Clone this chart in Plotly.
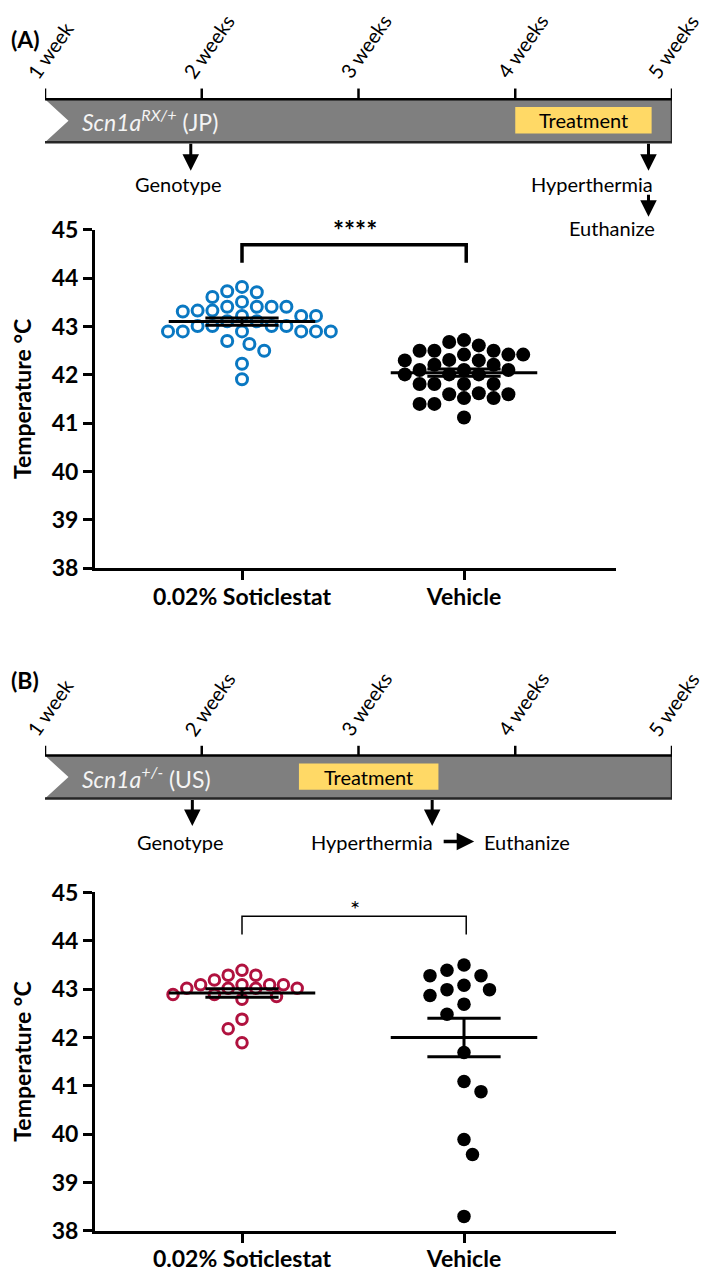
import numpy as np
import plotly.graph_objects as go

W, H = 709, 1275

# ---------------- data ----------------
weeks = [1, 2, 3, 4, 5]
week_labels = ["1 week", "2 weeks", "3 weeks", "4 weeks", "5 weeks"]
categories = ["0.02% Soticlestat", "Vehicle"]

a_soticlestat = [43.82, 43.73, 43.71, 43.61, 43.51, 43.41, 43.41, 43.41, 43.41, 43.33,
                 43.33, 43.31, 43.22, 43.22, 43.22, 43.11, 43.11, 43.01, 43.01, 43.01,
                 43.01, 42.90, 42.90, 42.90, 42.90, 42.90, 42.90, 42.70, 42.64, 42.50,
                 42.23, 41.91]
a_vehicle = [42.72, 42.68, 42.61, 42.50, 42.50, 42.50, 42.42, 42.42, 42.42, 42.31,
             42.30, 42.30, 42.21, 42.21, 42.10, 42.10, 42.10, 42.01, 42.01, 42.01,
             41.81, 41.81, 41.81, 41.81, 41.62, 41.60, 41.60, 41.52, 41.52, 41.40,
             41.40, 41.12]
b_soticlestat = [43.39, 43.29, 43.29, 43.19, 43.09, 43.09, 43.09, 43.09, 43.02, 43.02,
                 43.02, 43.02, 42.89, 42.89, 42.85, 42.79, 42.38, 42.18, 41.89]
b_vehicle = [43.50, 43.39, 43.28, 43.28, 43.08, 42.99, 42.99, 42.87, 42.69, 42.48,
             41.69, 41.09, 40.88, 39.89, 39.58, 38.30]

treat_a = [4.0, 4.87]          # weeks
treat_b = [2.62, 3.51]
genotype_week_a = 1.93
genotype_week_b = 1.94
hyper_week_a = 4.85
hyper_week_b = 3.47
sig_a = "****"
sig_b = "*"

# ---------------- style ----------------
FONT = "Lato"
BLUE = "#0a78c2"
RED = "#b0123f"
GRAY = "#7f7f7f"
YELLOW = "#ffd966"

fig = go.Figure()


def px_x(p):
    return p / W


def px_y(p):
    return 1 - p / H


# ---------------- axes layout ----------------
X0, X1 = 87, 608          # scatter plot x extent in px
CAT0, CAT1 = 234, 456     # category centres px
PPU_X = CAT1 - CAT0
xr = [(X0 - CAT0) / PPU_X, (X1 - CAT0) / PPU_X]

panels = {
    "A": dict(tl_top=0, y45=211.5, y38=557.5),
    "B": dict(tl_top=640, y45=889, y38=1235),
}
PPU_Y = (557.5 - 211.5) / 7.0

axis_common = dict(showgrid=False, zeroline=False, showline=True, linewidth=3,
                   linecolor="black", ticks="outside", ticklen=9, tickwidth=3,
                   tickcolor="black",
                   tickfont=dict(family=FONT, size=23, color="black", weight=700))

layout = dict(
    width=W, height=H, margin=dict(l=0, r=0, t=0, b=0),
    paper_bgcolor="white", plot_bgcolor="white", showlegend=False,
)
# timeline axes
for idx, key in ((1, "A"), (2, "B")):
    top = panels[key]["tl_top"]
    sfx = "" if idx == 1 else str(idx)
    layout["xaxis" + sfx] = dict(domain=[px_x(37), px_x(664)], range=[1, 5], visible=False,
                                 anchor="y" + sfx, fixedrange=True)
    layout["yaxis" + sfx] = dict(domain=[px_y(top + 230), px_y(top)], range=[230, 0],
                                 visible=False, anchor="x" + sfx, fixedrange=True)
# scatter axes
for idx, key in ((3, "A"), (4, "B")):
    p = panels[key]
    sfx = str(idx)
    layout["xaxis" + sfx] = dict(domain=[px_x(X0), px_x(X1)], range=xr, tickvals=[0, 1],
                                 ticktext=categories, anchor="y" + sfx,
                                 ticklabelstandoff=-3, **axis_common)
    layout["yaxis" + sfx] = dict(domain=[px_y(p["y38"]), px_y(p["y45"])], range=[38, 45],
                                 tick0=38, dtick=1, anchor="x" + sfx, **axis_common)

fig.update_layout(**layout)

shapes = []
annotations = []


# ---------------- timelines ----------------
def timeline(sfx, geo, treat, bar_html, genotype_week, hyper_week, stacked):
    xref, yref = "x" + sfx, "y" + sfx
    bt, bb = geo["bar_top"], geo["bar_bot"]
    mid = (bt + bb) / 2
    notch = 0.15
    # bar with chevron notch
    shapes.append(dict(type="path", xref=xref, yref=yref, layer="below",
                       path=f"M {weeks[0]} {bt} L {weeks[-1]} {bt} L {weeks[-1]} {bb} "
                            f"L {weeks[0]} {bb} L {weeks[0] + notch} {mid} Z",
                       fillcolor=GRAY, line=dict(width=0)))
    # bottom + right edge
    shapes.append(dict(type="path", xref=xref, yref=yref,
                       path=f"M {weeks[0]} {bb} L {weeks[-1]} {bb} L {weeks[-1]} {bt}",
                       line=dict(color="#262626", width=2.5)))
    # baseline + ticks
    shapes.append(dict(type="line", xref=xref, yref=yref, x0=weeks[0], x1=weeks[-1],
                       y0=bt, y1=bt, line=dict(color="black", width=2.5)))
    for j, (w, lab) in enumerate(zip(weeks, week_labels)):
        shapes.append(dict(type="line", xref=xref, yref=yref, x0=w, x1=w,
                           y0=geo["tick_top"], y1=bt, line=dict(color="black", width=2.5)))
        last = j == len(weeks) - 1
        annotations.append(dict(xref=xref, yref=yref, x=w, y=geo["lab_bot"], text=lab,
                                showarrow=False, textangle=-55, xanchor="left",
                                yanchor="bottom", xshift=-32 if last else -26,
                                font=dict(family=FONT, size=20, color="black")))
    # treatment box
    shapes.append(dict(type="rect", xref=xref, yref=yref, x0=treat[0], x1=treat[1],
                       y0=geo["tr_top"], y1=geo["tr_bot"], fillcolor=YELLOW,
                       line=dict(width=0)))
    annotations.append(dict(xref=xref, yref=yref, x=(treat[0] + treat[1]) / 2,
                            y=(geo["tr_top"] + geo["tr_bot"]) / 2, text="Treatment",
                            showarrow=False, font=dict(family=FONT, size=20, color="black")))
    # bar label
    annotations.append(dict(xref=xref, yref=yref, x=weeks[0], y=mid, text=bar_html,
                            showarrow=False, xanchor="left", xshift=35,
                            font=dict(family=FONT, size=23, color="#f4f4f4")))
    # arrows
    arrow = dict(xref=xref, yref=yref, axref=xref, ayref=yref, showarrow=True, text="",
                 arrowhead=2, arrowsize=1.1, arrowwidth=3, arrowcolor="black", standoff=0)
    annotations.append(dict(arrow, x=genotype_week, y=geo["arr_end"], ax=genotype_week, ay=bb))
    annotations.append(dict(arrow, x=hyper_week, y=geo["arr_end"], ax=hyper_week, ay=bb))
    txt = dict(family=FONT, size=20, color="black")
    annotations.append(dict(xref=xref, yref=yref, x=genotype_week, y=geo["ev_text"],
                            text="Genotype", showarrow=False, xshift=-12, font=txt))
    if stacked:
        annotations.append(dict(xref=xref, yref=yref, x=hyper_week, y=geo["ev_text"],
                                text="Hyperthermia", showarrow=False, xanchor="right",
                                xshift=7, font=txt))
        annotations.append(dict(arrow, x=hyper_week, y=geo["arr2_end"], ax=hyper_week,
                                ay=geo["arr2_start"]))
        annotations.append(dict(xref=xref, yref=yref, x=hyper_week, y=geo["ev2_text"],
                                text="Euthanize", showarrow=False, xanchor="right",
                                xshift=9, font=txt))
    else:
        annotations.append(dict(xref=xref, yref=yref, x=hyper_week, y=geo["ev_text"],
                                text="Hyperthermia", showarrow=False, xanchor="right",
                                xshift=3, font=txt))
        annotations.append(dict(xref=xref, yref=yref, x=hyper_week, y=geo["ev_text"],
                                ax=-32, ay=0, xshift=42, showarrow=True, text="",
                                arrowhead=2, arrowsize=1.0, arrowwidth=3.5,
                                arrowcolor="black", standoff=0))
        annotations.append(dict(xref=xref, yref=yref, x=hyper_week, y=geo["ev_text"],
                                text="Euthanize", showarrow=False, xanchor="left",
                                xshift=50, font=txt))


geo_a = dict(tick_top=67, bar_top=78, bar_bot=122, tr_top=86, tr_bot=113, arr_end=151,
             ev_text=165, arr2_start=174, arr2_end=198, ev2_text=210, lab_bot=64)
geo_b = dict(tick_top=99, bar_top=109, bar_bot=153, tr_top=117, tr_bot=144, arr_end=181,
             ev_text=197, lab_bot=96)
timeline("", geo_a, treat_a, "<i>Scn1a<sup>RX/+</sup></i> (JP)",
         genotype_week_a, hyper_week_a, True)
timeline("2", geo_b, treat_b, "<i>Scn1a<sup>+/-</sup></i> (US)",
         genotype_week_b, hyper_week_b, False)


# ---------------- scatter panels ----------------
def swarm_offsets(vals, diam):
    vals = np.asarray(vals, dtype=float)
    order = np.argsort(-vals, kind="stable")
    placed = []
    off = np.zeros(len(vals))
    step = diam / 2.0
    for n, i in enumerate(order):
        y = vals[i] * PPU_Y
        chosen = None
        for k in range(0, 200):
            if k == 0:
                cands = [0.0]
            else:
                cands = [k * step, -k * step] if n % 2 == 0 else [-k * step, k * step]
            for dx in cands:
                if all((dx - px) ** 2 + (y - py) ** 2 >= (0.93 * diam) ** 2
                       for px, py in placed):
                    chosen = dx
                    break
            if chosen is not None:
                break
        placed.append((chosen, y))
        off[i] = chosen
    return off / PPU_X


def group(sfx, cat, vals, color, open_marker, diam, spacing):
    xs = cat + swarm_offsets(vals, spacing)
    if open_marker:
        marker = dict(symbol="circle-open", size=diam - 3, color=color,
                      line=dict(width=3, color=color))
    else:
        marker = dict(symbol="circle", size=diam, color=color, line=dict(width=0))
    fig.add_trace(go.Scatter(x=xs, y=vals, mode="markers", marker=marker,
                             xaxis="x" + sfx, yaxis="y" + sfx, cliponaxis=False,
                             hoverinfo="y"))
    m = float(np.mean(vals))
    s = float(np.std(vals, ddof=1) / np.sqrt(len(vals)))
    fig.add_trace(go.Scatter(x=[cat - 0.33, cat + 0.33], y=[m, m], mode="lines",
                             line=dict(color="black", width=3),
                             xaxis="x" + sfx, yaxis="y" + sfx, hoverinfo="skip"))
    fig.add_trace(go.Scatter(
        x=[cat, cat, None, cat - 0.165, cat + 0.165, None, cat - 0.165, cat + 0.165],
        y=[m - s, m + s, None, m + s, m + s, None, m - s, m - s], mode="lines",
        line=dict(color="black", width=3), xaxis="x" + sfx, yaxis="y" + sfx,
        hoverinfo="skip"))


group("3", 0, a_soticlestat, BLUE, True, 14, 14.8)
group("3", 1, a_vehicle, "black", False, 14, 14.8)
group("4", 0, b_soticlestat, RED, True, 13.5, 13.8)
group("4", 1, b_vehicle, "black", False, 13.5, 17)

# significance brackets
shapes.append(dict(type="path", xref="x3", yref="y3", path="M 0 44.32 L 0 44.69 L 1.01 44.69 L 1.01 44.32",
                   line=dict(color="black", width=3.5)))
annotations.append(dict(xref="x3", yref="y3", x=0.51, y=45.0, text=sig_a, showarrow=False,
                        font=dict(family=FONT, size=26, color="black", weight=700)))
shapes.append(dict(type="path", xref="x4", yref="y4", path="M 0 44.13 L 0 44.51 L 1.01 44.51 L 1.01 44.13",
                   line=dict(color="black", width=1.5)))
annotations.append(dict(xref="x4", yref="y4", x=0.51, y=44.66, text=sig_b, showarrow=False,
                        font=dict(family=FONT, size=24, color="black")))

# y titles and panel labels
for key in ("A", "B"):
    p = panels[key]
    annotations.append(dict(xref="paper", yref="paper", x=px_x(14),
                            y=px_y((p["y45"] + p["y38"]) / 2), text="Temperature °C",
                            textangle=-90, showarrow=False, xanchor="center",
                            yanchor="middle",
                            font=dict(family=FONT, size=23, color="black", weight=700)))
annotations.append(dict(xref="paper", yref="paper", x=px_x(1), y=px_y(16), text="(A)",
                        xanchor="left", yanchor="middle", showarrow=False,
                        font=dict(family=FONT, size=23, color="black", weight=700)))
annotations.append(dict(xref="paper", yref="paper", x=px_x(1), y=px_y(672), text="(B)",
                        xanchor="left", yanchor="middle", showarrow=False,
                        font=dict(family=FONT, size=23, color="black", weight=700)))

fig.update_layout(shapes=shapes, annotations=annotations)
fig.write_html("out.html")
